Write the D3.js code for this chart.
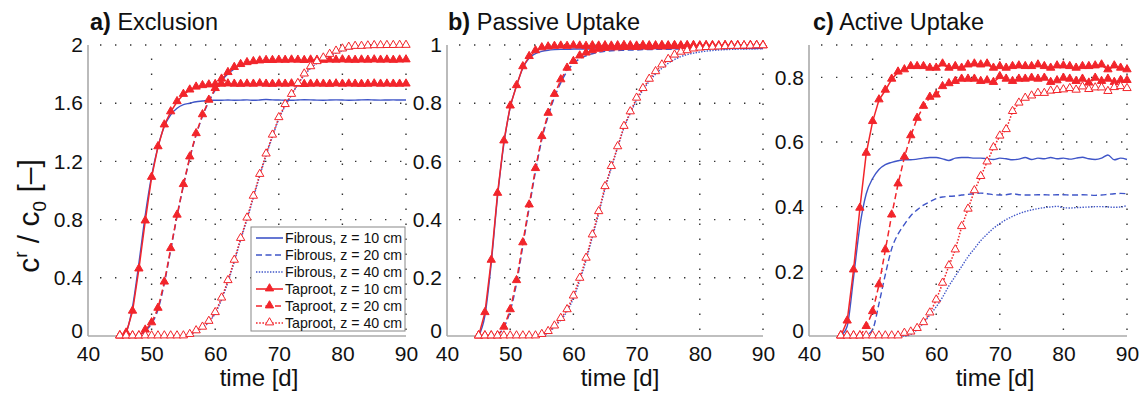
<!DOCTYPE html>
<html>
<head>
<meta charset="utf-8">
<script src="https://cdn.jsdelivr.net/npm/d3@7"></script>
<style>
  body { margin: 0; background: #fff; }
  text { font-family: "Liberation Sans", Arial, Helvetica, sans-serif; fill: #111; }
</style>
</head>
<body>
<svg id="chart" width="1140" height="396"></svg>
<script>
// time axis (days) shared by every series
var days = [45, 46, 47, 48, 49, 50, 51, 52, 53, 54, 55, 56, 57, 58, 59, 60, 61, 62, 63, 64, 65, 66, 67,
            68, 69, 70, 71, 72, 73, 74, 75, 76, 77, 78, 79, 80, 81, 82, 83, 84, 85, 86, 87, 88, 89, 90];
var xTicks = [40, 50, 60, 70, 80, 90];
var yTicksA = [0, 0.4, 0.8, 1.2, 1.6, 2];
var yTicksB = [0, 0.2, 0.4, 0.6, 0.8, 1];
var yTicksC = [0, 0.2, 0.4, 0.6, 0.8];
var panelLetters = ["a)", "b)", "c)"];
var panelNames = ["Exclusion", "Passive Uptake", "Active Uptake"];
var legendLabels = ["Fibrous, z = 10 cm", "Fibrous, z = 20 cm", "Fibrous, z = 40 cm",
                    "Taproot, z = 10 cm", "Taproot, z = 20 cm", "Taproot, z = 40 cm"];

// a) Exclusion
var exclFib10 = [0, 0.03, 0.2, 0.5, 0.83, 1.1, 1.3, 1.44, 1.52, 1.565, 1.59, 1.6, 1.61, 1.615, 1.62,
  1.62, 1.62, 1.622, 1.62, 1.621, 1.623, 1.62, 1.622, 1.625, 1.623, 1.622, 1.62, 1.62, 1.622, 1.624, 1.623,
  1.621, 1.62, 1.622, 1.623, 1.622, 1.62, 1.621, 1.623, 1.624, 1.622, 1.621, 1.622, 1.623, 1.622, 1.622];
var exclFib20 = [0, 0, 0, 0.005, 0.035, 0.085, 0.18, 0.36, 0.59, 0.82, 1.03, 1.22, 1.38, 1.51, 1.61, 1.69,
  1.755, 1.8, 1.835, 1.857, 1.87, 1.878, 1.883, 1.886, 1.888, 1.889, 1.89, 1.89, 1.889, 1.891, 1.89, 1.889,
  1.89, 1.891, 1.89, 1.889, 1.89, 1.891, 1.89, 1.89, 1.889, 1.89, 1.891, 1.89, 1.89, 1.891];
var exclFib40 = [0, 0, 0, 0, 0, 0, 0, 0, 0, 0, 0, 0.008, 0.03, 0.055, 0.095, 0.155, 0.25, 0.37, 0.51, 0.66,
  0.8, 0.95, 1.1, 1.24, 1.37, 1.49, 1.58, 1.655, 1.73, 1.79, 1.84, 1.875, 1.9, 1.925, 1.945, 1.96, 1.972,
  1.98, 1.984, 1.987, 1.989, 1.99, 1.991, 1.992, 1.992, 1.993];
var exclTap10 = [0, 0.02, 0.17, 0.46, 0.79, 1.09, 1.3, 1.45, 1.54, 1.61, 1.66, 1.69, 1.71, 1.72, 1.725,
  1.728, 1.73, 1.732, 1.73, 1.729, 1.731, 1.73, 1.733, 1.73, 1.729, 1.731, 1.73, 1.732, 1.73, 1.728, 1.73,
  1.731, 1.73, 1.729, 1.732, 1.73, 1.731, 1.73, 1.729, 1.73, 1.732, 1.73, 1.731, 1.73, 1.73, 1.731];
var exclTap20 = [0, 0, 0, 0, 0.04, 0.09, 0.19, 0.37, 0.6, 0.83, 1.04, 1.23, 1.39, 1.52, 1.62, 1.7, 1.765,
  1.81, 1.845, 1.865, 1.878, 1.885, 1.89, 1.893, 1.893, 1.895, 1.894, 1.896, 1.895, 1.893, 1.896, 1.895,
  1.894, 1.896, 1.895, 1.897, 1.895, 1.894, 1.896, 1.895, 1.897, 1.895, 1.896, 1.894, 1.896, 1.897];
var exclTap40 = [0, 0, 0, 0, 0, 0, 0, 0, 0, 0, 0, 0.01, 0.035, 0.06, 0.1, 0.16, 0.26, 0.38, 0.52, 0.67,
  0.81, 0.96, 1.11, 1.25, 1.38, 1.5, 1.59, 1.66, 1.735, 1.8, 1.85, 1.885, 1.91, 1.935, 1.957, 1.972, 1.984,
  1.99, 1.99, 1.993, 1.995, 1.995, 1.996, 1.996, 1.997, 1.997];

// b) Passive Uptake
var passFib10 = [0, 0.07, 0.25, 0.48, 0.66, 0.785, 0.86, 0.92, 0.955, 0.97, 0.978, 0.982, 0.984, 0.985,
  0.985, 0.986, 0.986, 0.986, 0.987, 0.986, 0.987, 0.987, 0.987, 0.988, 0.987, 0.988, 0.988, 0.987, 0.988,
  0.988, 0.988, 0.988, 0.989, 0.988, 0.988, 0.989, 0.988, 0.989, 0.989, 0.988, 0.989, 0.989, 0.989, 0.988,
  0.989, 0.989];
var passFib20 = [0, 0, 0, 0.005, 0.03, 0.085, 0.18, 0.31, 0.44, 0.565, 0.675, 0.755, 0.82, 0.87, 0.91,
  0.935, 0.953, 0.963, 0.97, 0.975, 0.978, 0.98, 0.981, 0.982, 0.983, 0.983, 0.984, 0.984, 0.985, 0.985,
  0.985, 0.986, 0.986, 0.986, 0.986, 0.987, 0.987, 0.987, 0.987, 0.987, 0.988, 0.988, 0.988, 0.988, 0.988,
  0.988];
var passFib40 = [0, 0, 0, 0, 0, 0, 0, 0, 0, 0, 0, 0.012, 0.03, 0.055, 0.085, 0.13, 0.19, 0.26, 0.34, 0.42,
  0.505, 0.578, 0.648, 0.715, 0.765, 0.81, 0.845, 0.875, 0.9, 0.92, 0.937, 0.95, 0.96, 0.967, 0.972, 0.976,
  0.979, 0.981, 0.983, 0.984, 0.985, 0.986, 0.986, 0.987, 0.987, 0.987];
var passTap10 = [0, 0.08, 0.26, 0.49, 0.67, 0.79, 0.86, 0.925, 0.96, 0.98, 0.99, 0.993, 0.995, 0.996,
  0.995, 0.997, 0.996, 0.995, 0.997, 0.996, 0.997, 0.996, 0.997, 0.998, 0.997, 0.996, 0.998, 0.997, 0.997,
  0.998, 0.997, 0.998, 0.997, 0.998, 0.998, 0.997, 0.998, 0.998, 0.997, 0.998, 0.998, 0.998, 0.997, 0.998,
  0.998, 0.998];
var passTap20 = [0, 0, 0, 0, 0.03, 0.09, 0.19, 0.32, 0.45, 0.575, 0.685, 0.765, 0.83, 0.88, 0.92, 0.943,
  0.962, 0.972, 0.98, 0.985, 0.988, 0.99, 0.99, 0.991, 0.992, 0.991, 0.993, 0.992, 0.994, 0.993, 0.994,
  0.995, 0.994, 0.995, 0.996, 0.995, 0.996, 0.995, 0.996, 0.997, 0.996, 0.997, 0.996, 0.997, 0.997, 0.997];
var passTap40 = [0, 0, 0, 0, 0, 0, 0, 0, 0, 0, 0.005, 0.015, 0.034, 0.06, 0.09, 0.137, 0.198, 0.267, 0.347,
  0.427, 0.513, 0.582, 0.65, 0.72, 0.77, 0.817, 0.85, 0.882, 0.908, 0.931, 0.95, 0.965, 0.975, 0.98, 0.986,
  0.989, 0.991, 0.992, 0.993, 0.994, 0.995, 0.995, 0.996, 0.996, 0.997, 0.997];

// c) Active Uptake
var actFib10 = [0, 0.03, 0.18, 0.34, 0.44, 0.487, 0.515, 0.53, 0.537, 0.542, 0.545, 0.545, 0.547, 0.55,
  0.552, 0.552, 0.548, 0.543, 0.55, 0.552, 0.552, 0.55, 0.55, 0.548, 0.546, 0.55, 0.548, 0.545, 0.547,
  0.552, 0.546, 0.55, 0.548, 0.552, 0.548, 0.55, 0.547, 0.55, 0.553, 0.548, 0.546, 0.55, 0.56, 0.545, 0.55,
  0.546];
var actFib20 = [0, 0, 0, 0, 0.003, 0.02, 0.1, 0.19, 0.27, 0.315, 0.345, 0.372, 0.39, 0.405, 0.415, 0.425,
  0.43, 0.432, 0.433, 0.436, 0.438, 0.44, 0.442, 0.44, 0.437, 0.436, 0.437, 0.44, 0.437, 0.436, 0.436,
  0.437, 0.437, 0.436, 0.437, 0.437, 0.436, 0.436, 0.437, 0.436, 0.435, 0.436, 0.438, 0.44, 0.441, 0.44];
var actFib40 = [0, 0, 0, 0, 0, 0, 0, 0, 0, 0, 0, 0.005, 0.02, 0.04, 0.065, 0.09, 0.12, 0.155, 0.185, 0.215,
  0.245, 0.27, 0.295, 0.315, 0.333, 0.348, 0.36, 0.37, 0.378, 0.385, 0.39, 0.394, 0.397, 0.399, 0.401,
  0.397, 0.396, 0.397, 0.398, 0.399, 0.4, 0.4, 0.399, 0.398, 0.399, 0.404];
var actTap10 = [0, 0.046, 0.204, 0.395, 0.565, 0.663, 0.73, 0.76, 0.794, 0.816, 0.823, 0.833, 0.833, 0.833,
  0.828, 0.828, 0.841, 0.828, 0.833, 0.828, 0.838, 0.841, 0.838, 0.841, 0.828, 0.833, 0.828, 0.833, 0.835,
  0.833, 0.833, 0.838, 0.833, 0.828, 0.835, 0.835, 0.833, 0.828, 0.833, 0.833, 0.835, 0.838, 0.823, 0.835,
  0.828, 0.823];
var actTap20 = [0, 0, 0, 0, 0.029, 0.075, 0.158, 0.266, 0.374, 0.47, 0.553, 0.619, 0.673, 0.71, 0.738,
  0.745, 0.771, 0.78, 0.787, 0.794, 0.794, 0.794, 0.787, 0.789, 0.784, 0.802, 0.794, 0.787, 0.794, 0.794,
  0.797, 0.794, 0.797, 0.784, 0.789, 0.797, 0.794, 0.787, 0.794, 0.782, 0.797, 0.787, 0.794, 0.784, 0.79,
  0.79];
var actTap40 = [0, 0, 0, 0, 0, 0, 0, 0, 0, 0, 0.008, 0.012, 0.023, 0.041, 0.071, 0.111, 0.163, 0.217,
  0.266, 0.338, 0.392, 0.449, 0.493, 0.538, 0.582, 0.618, 0.638, 0.694, 0.72, 0.735, 0.742, 0.75, 0.75,
  0.757, 0.759, 0.761, 0.765, 0.76, 0.77, 0.762, 0.767, 0.767, 0.756, 0.768, 0.771, 0.765];

var panelSeries = [
  [exclFib10, exclFib20, exclFib40, exclTap10, exclTap20, exclTap40],
  [passFib10, passFib20, passFib40, passTap10, passTap20, passTap40],
  [actFib10, actFib20, actFib40, actTap10, actTap20, actTap40]
];
var panelYTicks = [yTicksA, yTicksB, yTicksC];
var panelYMax = [2, 1, 0.9];

// layout + styles
var blue = "#3f55c8", red = "#f2252b";
var styles = [
  {color: blue, dash: null, marker: null},
  {color: blue, dash: "6,3.5", marker: null},
  {color: blue, dash: "1.4,1.4", marker: null},
  {color: red, dash: null, marker: "filled"},
  {color: red, dash: "6,3.5", marker: "filled"},
  {color: red, dash: "1.6,1.6", marker: "open"}
];
var plotTop = 45, plotBottom = 336;
var panelLeft = [88, 447, 809], panelRight = [406, 763, 1127];
var titleX = [90, 448, 813];
var xLabelX = [259, 620, 995];

var svg = d3.select("#chart");
var fmt = d3.format("~g");
var tri = d3.symbol().type(d3.symbolTriangle).size(30);

function drawPanel(k) {
  var x = d3.scaleLinear().domain([40, 90]).range([panelLeft[k], panelRight[k]]);
  var y = d3.scaleLinear().domain([0, panelYMax[k]]).range([plotBottom, plotTop]);
  var g = svg.append("g").attr("class", "panel-" + k);

  // dotted grid
  var hVals = panelYTicks[k].filter(function(v) { return v > 0; });
  if (hVals[hVals.length - 1] < panelYMax[k]) hVals.push(panelYMax[k]);
  g.selectAll(".hgrid").data(hVals).enter().append("line")
    .attr("x1", x(40) + 12).attr("x2", x(90))
    .attr("y1", function(d) { return y(d); }).attr("y2", function(d) { return y(d); })
    .attr("stroke", "#333").attr("stroke-width", 1.4).attr("stroke-dasharray", "1.4,13.6");
  g.selectAll(".vgrid").data(xTicks.slice(1)).enter().append("line")
    .attr("x1", function(d) { return x(d); }).attr("x2", function(d) { return x(d); })
    .attr("y1", y(0) - 6).attr("y2", y(panelYMax[k]))
    .attr("stroke", "#333").attr("stroke-width", 1.4).attr("stroke-dasharray", "1.4,13.6");

  // axis lines
  g.append("line").attr("x1", x(40)).attr("x2", x(40)).attr("y1", plotTop).attr("y2", plotBottom)
    .attr("stroke", "#aaa").attr("stroke-width", 1.6);
  g.append("line").attr("x1", x(40)).attr("x2", x(90)).attr("y1", plotBottom).attr("y2", plotBottom)
    .attr("stroke", "#aaa").attr("stroke-width", 1.6);

  // tick labels
  var ya = g.append("g").attr("transform", "translate(" + x(40) + ",0)")
    .call(d3.axisLeft(y).tickValues(panelYTicks[k]).tickSize(0).tickPadding(5).tickFormat(fmt));
  var xa = g.append("g").attr("transform", "translate(0," + plotBottom + ")")
    .call(d3.axisBottom(x).tickValues(xTicks).tickSize(0).tickPadding(10).tickFormat(fmt));
  [ya, xa].forEach(function(a) {
    a.select(".domain").remove();
    a.selectAll("text").style("font-size", "21px").style("font-family", null).attr("fill", "#111");
  });
  // the "0" of the y axis sits a touch higher so it clears the "40" below it
  ya.selectAll(".tick").filter(function(d) { return d === 0; }).select("text").attr("dy", "0.05em");

  // curves
  var line = d3.line().x(function(d, i) { return x(days[i]); }).y(function(d) { return y(d); });
  panelSeries[k].forEach(function(vals, s) {
    var st = styles[s];
    g.append("path").datum(vals)
      .attr("d", line.curve(st.marker ? d3.curveLinear : d3.curveMonotoneX))
      .attr("fill", "none").attr("stroke", st.color)
      .attr("stroke-width", st.marker ? 1.5 : 1.4)
      .attr("stroke-dasharray", st.dash);
  });
  panelSeries[k].forEach(function(vals, s) {
    var st = styles[s];
    if (!st.marker) return;
    g.selectAll(".m" + s).data(vals).enter().append("path")
      .attr("d", tri)
      .attr("transform", function(d, i) { return "translate(" + x(days[i]) + "," + (y(d) - 0.5) + ")"; })
      .attr("fill", st.marker == "open" ? "#fff" : st.color)
      .attr("stroke", st.color).attr("stroke-width", 1);
  });

  // title
  var t = g.append("text").attr("x", titleX[k]).attr("y", 30).style("font-size", "23.5px");
  t.append("tspan").attr("font-weight", "bold").text(panelLetters[k]);
  t.append("tspan").text(" " + panelNames[k]);

  // x label
  g.append("text").attr("x", xLabelX[k]).attr("y", 386).attr("text-anchor", "middle")
    .style("font-size", "24px").text("time [d]");
}

[0, 1, 2].forEach(drawPanel);

// y axis label
var yl = svg.append("text").attr("transform", "translate(39,216) rotate(-90)")
  .attr("text-anchor", "middle").style("font-size", "30px");
yl.append("tspan").text("c");
yl.append("tspan").attr("dy", -12).style("font-size", "19px").text("r");
yl.append("tspan").attr("dy", 12).text(" / c");
yl.append("tspan").attr("dy", 7).style("font-size", "19px").text("0");
yl.append("tspan").attr("dy", -7).text(" [\u2013]");

// legend (panel a)
var lg = svg.append("g").attr("transform", "translate(251,227)");
lg.append("rect").attr("width", 154).attr("height", 104)
  .attr("fill", "#fff").attr("stroke", "#888").attr("stroke-width", 1);
legendLabels.forEach(function(lab, i) {
  var st = styles[i], cy = 11 + i * 17;
  lg.append("line").attr("x1", 5).attr("x2", 32).attr("y1", cy).attr("y2", cy)
    .attr("stroke", st.color).attr("stroke-width", 1.6).attr("stroke-dasharray", st.dash);
  if (st.marker) {
    lg.append("path").attr("d", tri).attr("transform", "translate(18.5," + (cy - 0.5) + ")")
      .attr("fill", st.marker == "open" ? "#fff" : st.color).attr("stroke", st.color);
  }
  lg.append("text").attr("x", 34).attr("y", cy + 5).style("font-size", "14.2px").text(lab);
});
</script>
</body>
</html>
